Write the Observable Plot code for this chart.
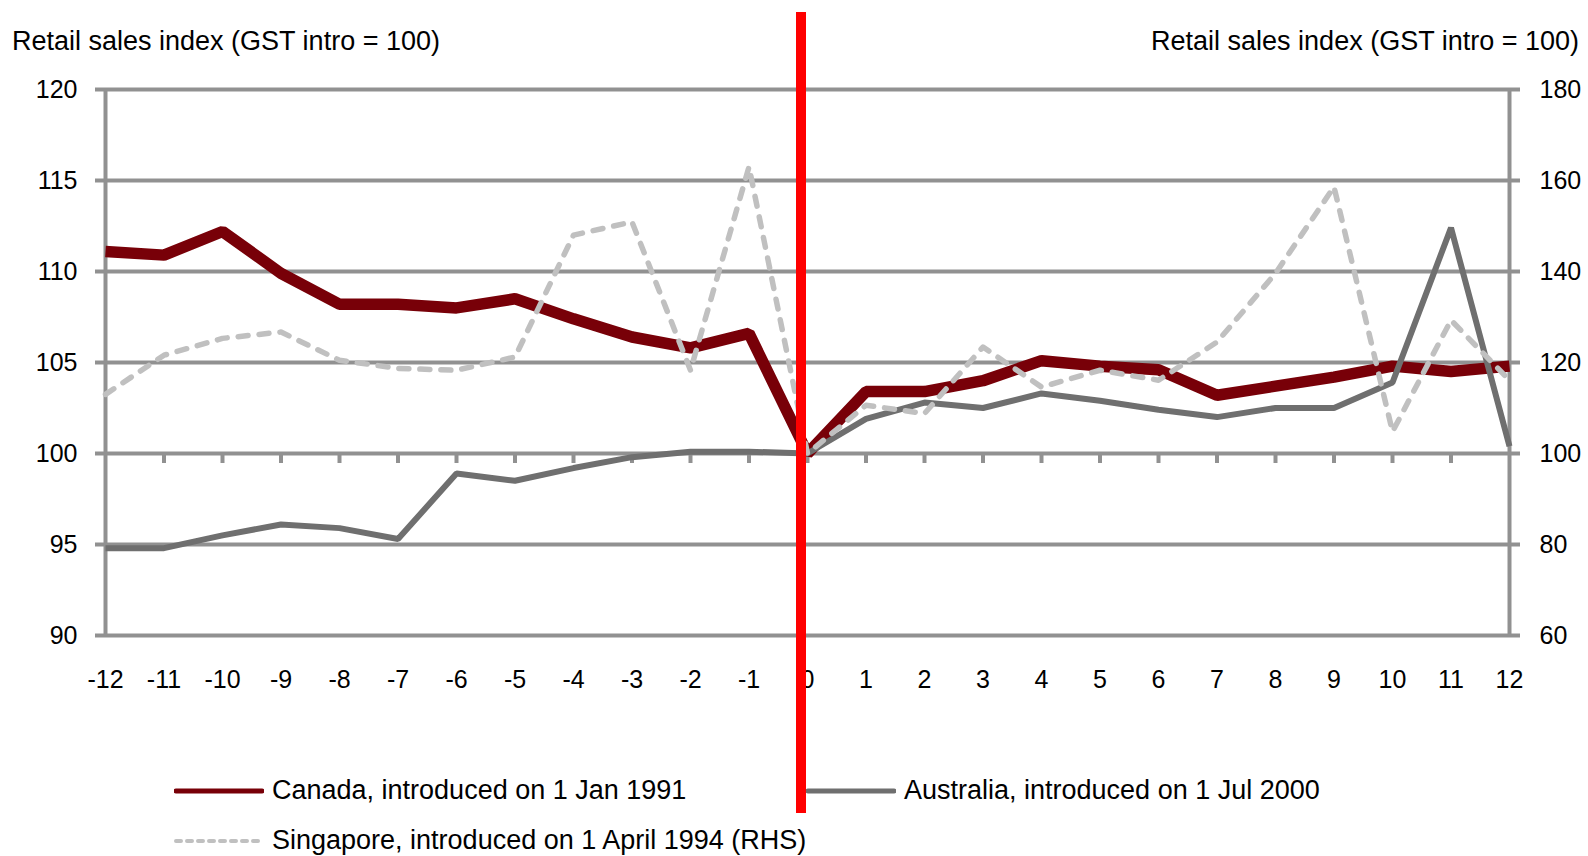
<!DOCTYPE html>
<html>
<head>
<meta charset="utf-8">
<script src="https://cdn.jsdelivr.net/npm/d3@7"></script>
<script src="https://cdn.jsdelivr.net/npm/@observablehq/plot@0.6"></script>
<style>
  body { margin: 0; background: #fff; font-family: "Liberation Sans", Arial, sans-serif; color: #000; }
  #chart { position: relative; width: 1588px; height: 856px; overflow: hidden; }
  #chart svg.plot { position: absolute; left: 0; top: 0; }
  .axis-title { position: absolute; top: 28px; font-size: 27px; line-height: 27px; white-space: nowrap; }
  .legend-item { position: absolute; display: flex; align-items: center; font-size: 27px; line-height: 27px; white-space: nowrap; }
  .legend-item svg { margin-right: 8px; }
</style>
</head>
<body>
<div id="chart"></div>
<script>
// Months relative to GST introduction (0 = month of introduction)
const monthsFromIntro = [-12, -11, -10, -9, -8, -7, -6, -5, -4, -3, -2, -1, 0, 1, 2, 3, 4, 5, 6, 7, 8, 9, 10, 11, 12];

// Retail sales index, GST intro = 100 (left axis)
const canada = [111.1, 110.9, 112.2, 109.9, 108.2, 108.2, 108.0, 108.5, 107.4, 106.4, 105.8, 106.6, 100.0,
                103.4, 103.4, 104.0, 105.1, 104.8, 104.6, 103.2, 103.7, 104.2, 104.8, 104.5, 104.8];
const australia = [94.8, 94.8, 95.5, 96.1, 95.9, 95.3, 98.9, 98.5, 99.2, 99.8, 100.1, 100.1, 100.0,
                   101.9, 102.8, 102.5, 103.3, 102.9, 102.4, 102.0, 102.5, 102.5, 103.9, 112.4, 100.4];
// Singapore is read against the right-hand axis
const singapore = [113.0, 121.6, 125.3, 126.7, 120.5, 118.7, 118.3, 121.2, 148.0, 150.9, 118.3, 163.0, 100.0,
                   110.6, 108.8, 123.4, 114.6, 118.3, 116.1, 124.5, 139.6, 158.6, 104.8, 129.3, 116.1];

const leftTicks = [90, 95, 100, 105, 110, 115, 120];
const rightTicks = [60, 80, 100, 120, 140, 160, 180];

const seriesNames = [
  "Canada, introduced on 1 Jan 1991",
  "Australia, introduced on 1 Jul 2000",
  "Singapore, introduced on 1 April 1994 (RHS)"
];
const axisTitle = "Retail sales index (GST intro = 100)";

const CANADA = "#780008";
const AUSTRALIA = "#6f6f6f";
const SINGAPORE = "#c0c0c0";
const GRID = "#919191";
const MARKER = "#ff0000";

// Right axis (60–180) maps linearly onto the left axis (90–120)
const rightToLeft = v => 90 + (v - 60) / 4;

const rows = monthsFromIntro.map((t, i) => ({
  t,
  canada: canada[i],
  australia: australia[i],
  singapore: rightToLeft(singapore[i])
}));

const fontFamily = '"Liberation Sans", Arial, sans-serif';

const plot = Plot.plot({
  width: 1588,
  height: 856,
  marginTop: 89,
  marginBottom: 221,
  marginLeft: 105,
  marginRight: 79,
  style: { fontFamily, fontSize: "25px", color: "#000", background: "transparent", overflow: "visible" },
  x: { domain: [-12, 12], label: null, axis: null },
  y: { domain: [90, 120], label: null, axis: null },
  marks: [
    // horizontal gridlines, extended slightly past both axes as tick marks
    Plot.ruleY(leftTicks, { stroke: GRID, strokeWidth: 4, insetLeft: -10, insetRight: -11 }),
    // left and right value axes
    Plot.ruleX([-12, 12], { stroke: GRID, strokeWidth: 4 }),
    // category ticks hanging below the 100 line
    Plot.ruleX(monthsFromIntro.filter(d => Math.abs(d) < 12), {
      x: d => d, y1: () => 100, y2: () => 100, insetBottom: -10, stroke: GRID, strokeWidth: 4
    }),
    // tick labels
    Plot.axisY(leftTicks, { anchor: "left", tickSize: 0, tickPadding: 28, fontSize: 25, tickFormat: d => String(d), label: null }),
    Plot.text(rightTicks, {
      x: () => 12, y: d => rightToLeft(d), text: d => String(d),
      textAnchor: "start", dx: 30, fontSize: 25, fill: "#000"
    }),
    Plot.axisX(monthsFromIntro, { anchor: "bottom", tickSize: 0, tickPadding: 35, fontSize: 25, tickFormat: d => String(d), label: null }),
    // series
    Plot.line(rows, { x: "t", y: "canada", stroke: CANADA, strokeWidth: 11.5, strokeLinejoin: "miter", strokeLinecap: "butt" }),
    Plot.line(rows, { x: "t", y: "australia", stroke: AUSTRALIA, strokeWidth: 6, strokeLinejoin: "miter", strokeLinecap: "butt" }),
    Plot.line(rows, { x: "t", y: "singapore", stroke: SINGAPORE, strokeWidth: 5.5, strokeDasharray: "10,11", strokeLinecap: "round", strokeLinejoin: "round" }),
    // marker for the month GST was introduced
    Plot.ruleX([0], { stroke: MARKER, strokeWidth: 10, insetTop: -77, insetBottom: -178, dx: -6.5 })
  ]
});
plot.classList.add("plot");

const chart = document.getElementById("chart");
chart.appendChild(plot);

// axis titles
const leftTitle = document.createElement("div");
leftTitle.className = "axis-title";
leftTitle.style.left = "12px";
leftTitle.textContent = axisTitle;
chart.appendChild(leftTitle);

const rightTitle = document.createElement("div");
rightTitle.className = "axis-title";
rightTitle.style.right = "9px";
rightTitle.textContent = axisTitle;
chart.appendChild(rightTitle);

// legend
function swatch(color, width, dash) {
  const ns = "http://www.w3.org/2000/svg";
  const s = document.createElementNS(ns, "svg");
  s.setAttribute("width", 90);
  s.setAttribute("height", 10);
  const l = document.createElementNS(ns, "line");
  l.setAttribute("x1", 2); l.setAttribute("x2", 88);
  l.setAttribute("y1", 5); l.setAttribute("y2", 5);
  l.setAttribute("stroke", color);
  l.setAttribute("stroke-width", width);
  l.setAttribute("stroke-linecap", "round");
  if (dash) l.setAttribute("stroke-dasharray", dash);
  s.appendChild(l);
  return s;
}
const legendItems = [
  { name: seriesNames[0], color: CANADA, width: 5, dash: null, left: 174, top: 777 },
  { name: seriesNames[1], color: AUSTRALIA, width: 5, dash: null, left: 806, top: 777 },
  { name: seriesNames[2], color: SINGAPORE, width: 4, dash: "5,6", left: 174, top: 827 }
];
for (const item of legendItems) {
  const div = document.createElement("div");
  div.className = "legend-item";
  div.style.left = item.left + "px";
  div.style.top = item.top + "px";
  div.appendChild(swatch(item.color, item.width, item.dash));
  const span = document.createElement("span");
  span.textContent = item.name;
  div.appendChild(span);
  chart.appendChild(div);
}
// keep the GST marker above the legend row it passes through
plot.style.zIndex = 1;
plot.style.pointerEvents = "none";
</script>
</body>
</html>
